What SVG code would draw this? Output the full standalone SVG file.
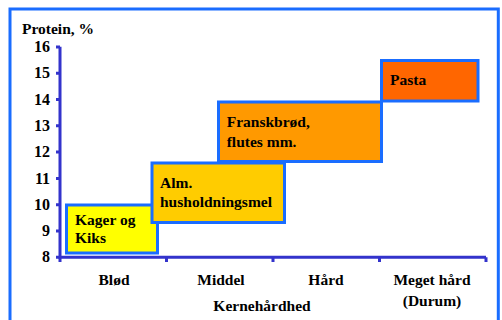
<svg xmlns="http://www.w3.org/2000/svg" width="502" height="320" viewBox="0 0 502 320">
<style>
text{font-family:"Liberation Serif","Times New Roman",serif;font-weight:bold;fill:#000;font-size:15.5px}
.tick{font-size:16px;text-anchor:end}
.cat{text-anchor:middle}
.box{stroke:#1a6dff;stroke-width:3}
.axis{stroke:#3333cc;stroke-width:3;fill:none}
</style>
<rect width="502" height="320" fill="#fff"/>
<path d="M10,330 V9 H498.3 V330" fill="none" stroke="#1a6dff" stroke-width="3"/>
<g id="axes">
<path class="axis" d="M60,46.7 V257.3 H486"/>
<path class="axis" d="M56,46.9 H60 M56,73.2 H60 M56,99.5 H60 M56,125.8 H60 M56,152.1 H60 M56,178.4 H60 M56,204.7 H60 M56,231 H60 M56,257.3 H60"/>
<path class="axis" d="M60,257.3 V262 M166.5,257.3 V262 M273,257.3 V262 M379.5,257.3 V262 M486,257.3 V262"/>
<text class="tick" x="50" y="52">16</text>
<text class="tick" x="50" y="78.3">15</text>
<text class="tick" x="50" y="104.6">14</text>
<text class="tick" x="50" y="130.9">13</text>
<text class="tick" x="50" y="157.2">12</text>
<text class="tick" x="50" y="183.5">11</text>
<text class="tick" x="50" y="209.8">10</text>
<text class="tick" x="50" y="236.1">9</text>
<text class="tick" x="50" y="262.4">8</text>
<text x="22" y="34">Protein, %</text>
<text class="cat" x="114" y="285">Blød</text>
<text class="cat" x="221" y="285">Middel</text>
<text class="cat" x="326" y="285">Hård</text>
<text class="cat" x="432" y="285">Meget hård</text>
<text class="cat" x="432" y="306">(Durum)</text>
<text class="cat" x="262" y="311">Kernehårdhed</text>
</g>
<g id="kager">
<rect class="box" x="66.5" y="205" width="91" height="48" fill="#ffff00"/>
<text x="75" y="225">Kager og</text>
<text x="75" y="243.3">Kiks</text>
</g>
<g id="alm">
<rect class="box" x="152" y="163" width="132.5" height="59.5" fill="#ffcc00"/>
<text x="160" y="188.3">Alm.</text>
<text x="160" y="206.7">husholdningsmel</text>
</g>
<g id="franskbrod">
<rect class="box" x="218.5" y="102" width="163" height="59.5" fill="#ff9900"/>
<text x="226.7" y="127.3">Franskbrød,</text>
<text x="226.7" y="146.7">flutes mm.</text>
</g>
<g id="pasta">
<rect class="box" x="381.5" y="60.5" width="96.5" height="40.5" fill="#ff6600"/>
<text x="390" y="85">Pasta</text>
</g>
</svg>
